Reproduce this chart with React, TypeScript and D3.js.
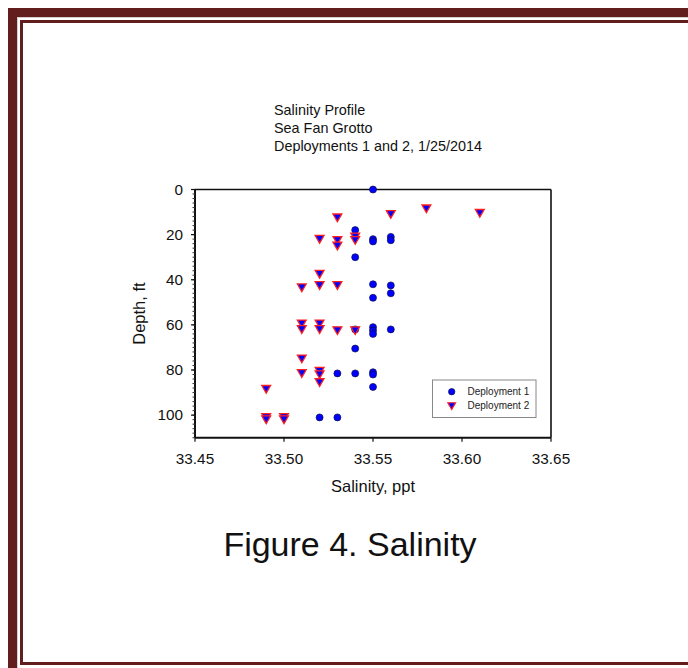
import React from 'react';
import * as d3 from 'd3';

const width = 688;
const height = 668;
const font = '"Liberation Sans", Arial, sans-serif';

const titleLines = ['Salinity Profile', 'Sea Fan Grotto', 'Deployments 1 and 2, 1/25/2014'];

const dep1Salinity = [33.55, 33.54, 33.55, 33.55, 33.56, 33.56, 33.54, 33.55, 33.56, 33.55, 33.56, 33.54, 33.55, 33.55, 33.55, 33.56, 33.54, 33.53, 33.54, 33.55, 33.55, 33.55, 33.52, 33.53];
const dep1Depth = [0, 18, 22, 23, 21, 22.5, 30, 42, 42.5, 48, 46, 62, 61, 62.5, 64, 62, 70.5, 81.5, 81.5, 81, 82, 87.5, 101, 101];

const dep2Salinity = [33.53, 33.52, 33.53, 33.53, 33.54, 33.54, 33.52, 33.51, 33.52, 33.53, 33.56, 33.58, 33.61, 33.51, 33.51, 33.52, 33.52, 33.53, 33.54, 33.51, 33.51, 33.52, 33.52, 33.52, 33.49, 33.49, 33.49, 33.50, 33.50];
const dep2Depth = [12, 21.5, 22, 24.5, 20.5, 22, 37, 43, 42, 42, 10.5, 8, 10, 59, 61.5, 59, 61.5, 62, 62, 74.5, 81, 80, 81.5, 85, 88, 100.5, 101.5, 100.5, 101.5];

const xTicks = [33.45, 33.5, 33.55, 33.6, 33.65];
const yTicks = [0, 20, 40, 60, 80, 100];
const seriesNames = ['Deployment 1', 'Deployment 2'];

const plot = { left: 195, right: 551, top: 189.5, bottom: 437.7 };

const App = () => {
  const x = d3.scaleLinear().domain([33.45, 33.65]).range([plot.left, plot.right]);
  const y = d3.scaleLinear().domain([0, 110]).range([plot.top, plot.bottom]);

  const tri = d3.symbol().type(d3.symbolTriangle).size(34)();
  const minorY = d3.range(0, 111, 2);

  const dep1 = dep1Salinity.map((s, i) => ({ s, d: dep1Depth[i] }));
  const dep2 = dep2Salinity.map((s, i) => ({ s, d: dep2Depth[i] }));

  return (
    <svg
      width={width}
      height={height}
      style={{ position: 'absolute', left: 0, top: 0, background: '#fff' }}
      fontFamily={font}
    >
      {/* page frame */}
      <rect x={12.5} y={12.5} width={720} height={720} fill="none" stroke="#621d1d" strokeWidth={9} />
      <rect x={17.5} y={17.5} width={720} height={720} fill="none" stroke="#d8cccc" strokeWidth={1} />
      <rect x={21.5} y={21.5} width={720} height={642} fill="none" stroke="#621d1d" strokeWidth={3} />

      {/* title */}
      {titleLines.map((t, i) => (
        <text key={t} x={274} y={115 + i * 17.8} fontSize={14.4} fill="#111">{t}</text>
      ))}

      {/* frame of plot */}
      <line x1={plot.left} x2={plot.right} y1={plot.top} y2={plot.top} stroke="#111" strokeWidth={1.6} />
      <line x1={plot.right} x2={plot.right} y1={plot.top} y2={plot.bottom} stroke="#111" strokeWidth={1.6} />
      <line x1={plot.left} x2={plot.left} y1={plot.top} y2={plot.bottom} stroke="#111" strokeWidth={2} />
      <line x1={plot.left} x2={plot.right} y1={plot.bottom} y2={plot.bottom} stroke="#111" strokeWidth={2} />

      {/* y ticks */}
      {minorY.map(t => (
        <line key={'m' + t} x1={plot.left - 2.5} x2={plot.left} y1={y(t)} y2={y(t)} stroke="#333" strokeWidth={1} />
      ))}
      {yTicks.map(t => (
        <g key={t} transform={`translate(${plot.left}, ${y(t)})`}>
          <line x1={-4} x2={0} stroke="#111" strokeWidth={1.2} />
          <text x={-12} dy="0.35em" textAnchor="end" fontSize={15.3} fill="#111">{t}</text>
        </g>
      ))}

      {/* x ticks */}
      {xTicks.map(t => (
        <g key={t} transform={`translate(${x(t)}, ${plot.bottom})`}>
          <line y1={0} y2={4} stroke="#111" strokeWidth={1.2} />
          <text y={26} textAnchor="middle" fontSize={15.3} fill="#111">{t.toFixed(2)}</text>
        </g>
      ))}

      {/* axis titles */}
      <text x={(plot.left + plot.right) / 2} y={492} textAnchor="middle" fontSize={16.5} fill="#111">Salinity, ppt</text>
      <text
        transform={`translate(145, ${(plot.top + plot.bottom) / 2}) rotate(-90)`}
        textAnchor="middle"
        fontSize={16.5}
        fill="#111"
      >
        Depth, ft
      </text>

      {/* deployment 1 */}
      {dep1.map((p, i) => (
        <circle key={'a' + i} cx={x(p.s)} cy={y(p.d)} r={3.5} fill="#0000ff" stroke="#10104a" strokeWidth={0.7} />
      ))}

      {/* deployment 2 */}
      {dep2.map((p, i) => (
        <path
          key={'b' + i}
          d={tri}
          transform={`translate(${x(p.s)}, ${y(p.d)}) rotate(180)`}
          fill="#0000ff"
          stroke="#ff2020"
          strokeWidth={1.3}
        />
      ))}

      {/* legend */}
      <g>
        <rect x={432.5} y={380} width={103.5} height={37.5} fill="#fff" stroke="#888" strokeWidth={1} />
        <circle cx={451.7} cy={391.7} r={3.2} fill="#0000ff" stroke="#10104a" strokeWidth={0.7} />
        <path d={d3.symbol().type(d3.symbolTriangle).size(26)()} transform="translate(451.7, 405) rotate(180)" fill="#0000ff" stroke="#ff2020" strokeWidth={1.2} />
        {seriesNames.map((n, i) => (
          <text key={n} x={467.5} y={391.7 + i * 13.3} dy="0.35em" fontSize={10} fill="#222">{n}</text>
        ))}
      </g>

      {/* caption */}
      <text x={350} y={556} textAnchor="middle" fontSize={34} fill="#111">Figure 4. Salinity</text>
    </svg>
  );
};

export default App;
